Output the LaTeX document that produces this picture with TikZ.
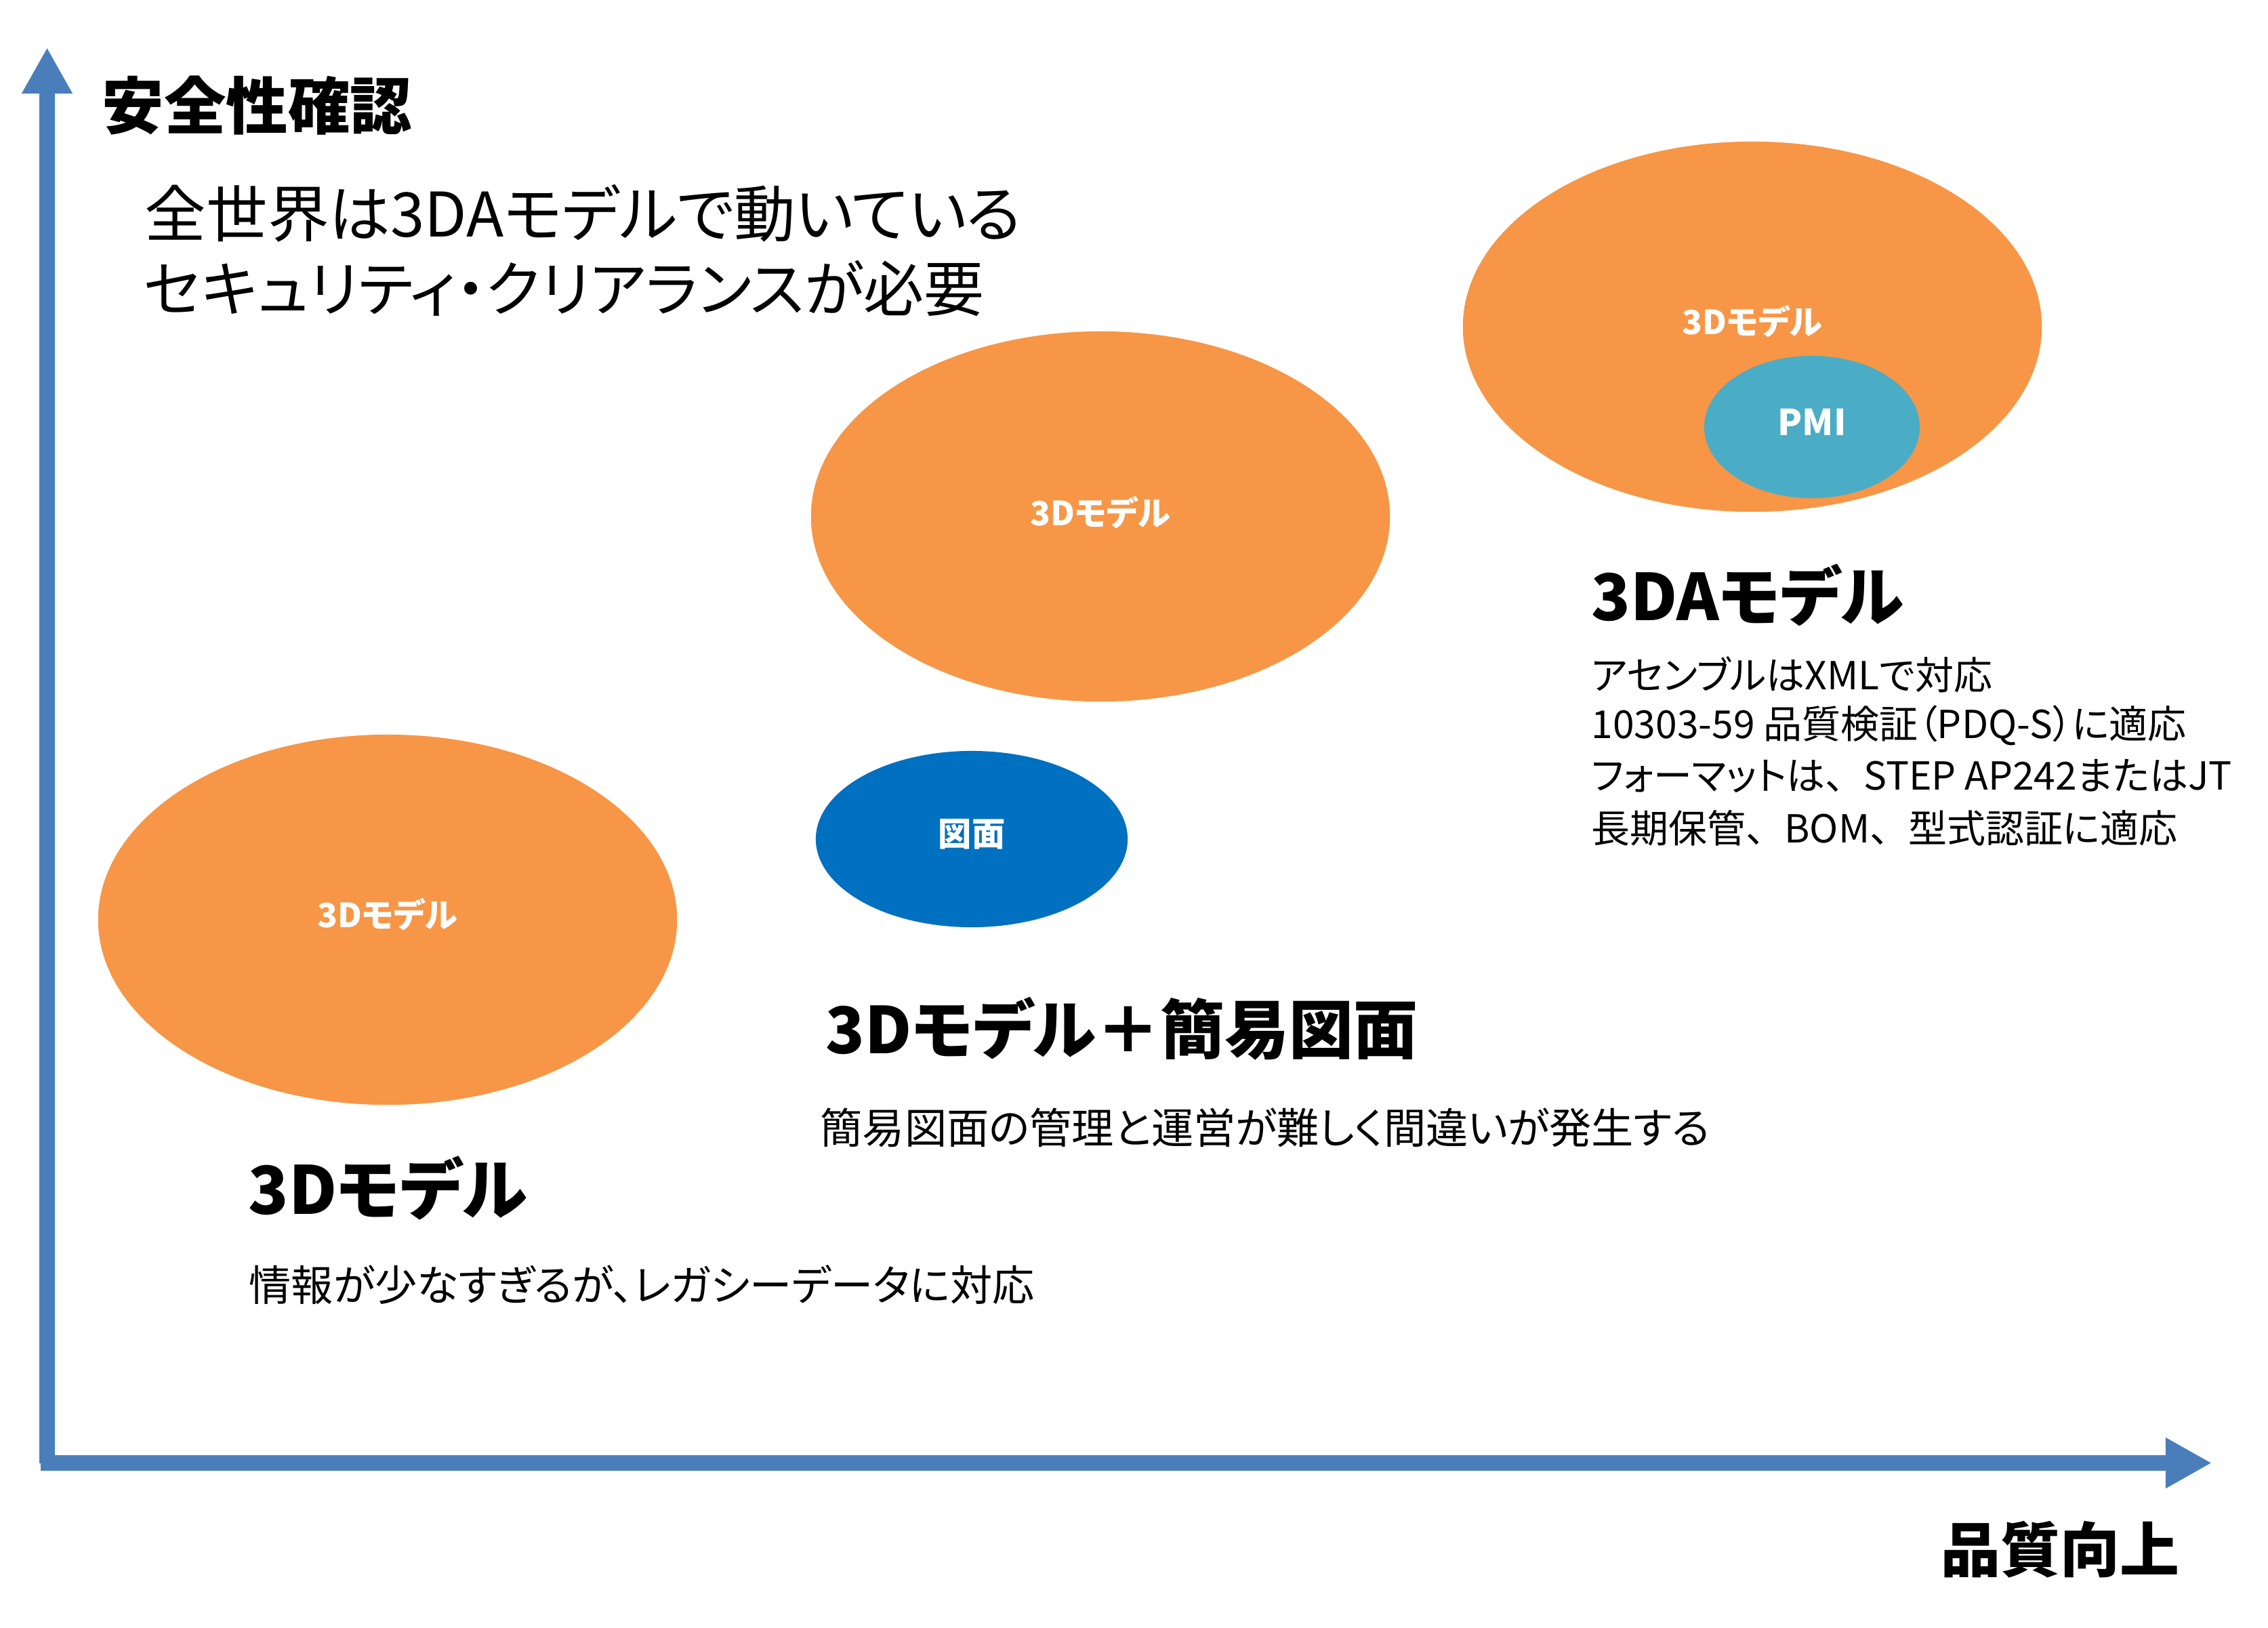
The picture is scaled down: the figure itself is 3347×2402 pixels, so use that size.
\documentclass[tikz,border=0pt]{standalone}
\usepackage{fontspec}
\setmainfont{Noto Sans CJK JP}[RawFeature=+palt]
\usetikzlibrary{arrows.meta,shapes.geometric}
\definecolor{axisblue}{HTML}{4A7EBB}
\definecolor{orng}{HTML}{F79646}
\definecolor{tealc}{HTML}{4BACC6}
\definecolor{dblue}{HTML}{0070C0}
\newcommand{\fw}[1]{{\addfontfeature{RawFeature=-palt}#1}}
\tikzset{
  axisline/.style={draw=axisblue, line width=0.23cm, -{Triangle[length=0.68cm,width=0.70cm]}},
  bigell/.style={ellipse, fill=orng, minimum width=8.54cm, minimum height=5.46cm},
  lbl/.style={text=white, font=\bfseries\fontsize{14}{16}\selectfont, inner sep=0},
  txt/.style={anchor=west, inner sep=0, text=black},
  ttl/.style={txt, font=\bfseries\fontsize{27}{32}\selectfont},
  body/.style={txt, font=\fontsize{17.7}{22}\selectfont},
  rbody/.style={txt, font=\fontsize{16.2}{19}\selectfont},
}
\begin{document}
\begin{tikzpicture}[x=0.01cm,y=-0.01cm]
\useasboundingbox (0,0) rectangle (3347,2402);
% axes
\coordinate (origin) at (69.5,2158.5);
\coordinate (xstart) at (60,2158.5);
\coordinate (ytip) at (69.5,70);
\coordinate (xtip) at (3264,2158.5);
\draw[axisline] (origin) -- (ytip);
\draw[axisline] (xstart) -- (xtip);
% ellipses
\node[bigell] (e1) at (572,1357) {};
\node[bigell] (e2) at (1624,762) {};
\node[bigell] (e3) at (2586,482) {};
\node[ellipse, fill=tealc, minimum width=3.18cm, minimum height=2.10cm] (pmi) at (2674,630) {};
\node[ellipse, fill=dblue, minimum width=4.60cm, minimum height=2.60cm] (zumen) at (1434,1238) {};
\node[lbl] (l1) at (572,1349) {3Dモデル};
\node[lbl] (l2) at (1624,756) {3Dモデル};
\node[lbl] (l3) at (2586,474) {3Dモデル};
\node[lbl, font=\bfseries\fontsize{15}{17}\selectfont] (l4) at (2674,623) {PMI};
\node[lbl] (l5) at (1434,1231) {図面};
% texts
\node[ttl, font=\bfseries\fontsize{26}{30}\selectfont] (yl) at (150,156) {安全性確認};
\node[txt, font=\fontsize{25.8}{30}\selectfont] (t1) at (213,315) {全世界は3DAモデルで動いている};
\node[txt, font=\fontsize{25.3}{30}\selectfont] (t2) at (212,426) {セキュリティ・クリアランスが必要};
\node[ttl] (h3) at (2348,878) {3DAモデル};
\node[rbody] (r1) at (2348,995) {アセンブルはXMLで対応};
\node[rbody] (r2) at (2348,1070) {10303-59 品質検証（PDQ-S）に適応};
\node[rbody] (r3) at (2348,1145) {フォーマットは\fw{、}STEP AP242またはJT};
\node[rbody] (r4) at (2348,1222) {長期保管\fw{、}BOM\fw{、}型式認証に適応};
\node[ttl] (h2) at (1218,1518) {3Dモデル＋簡易図面};
\node[body] (b2) at (1210,1664) {簡易図面の管理と運営が難しく間違いが発生する};
\node[ttl, font=\bfseries\fontsize{27.8}{32}\selectfont] (h1) at (366,1753) {3Dモデル};
\node[body] (b1) at (367,1896) {情報が少なすぎるが、レガシーデータに対応};
\node[ttl, font=\bfseries\fontsize{25}{30}\selectfont] (xl) at (2864,2286) {品質向上};
\end{tikzpicture}
\end{document}
